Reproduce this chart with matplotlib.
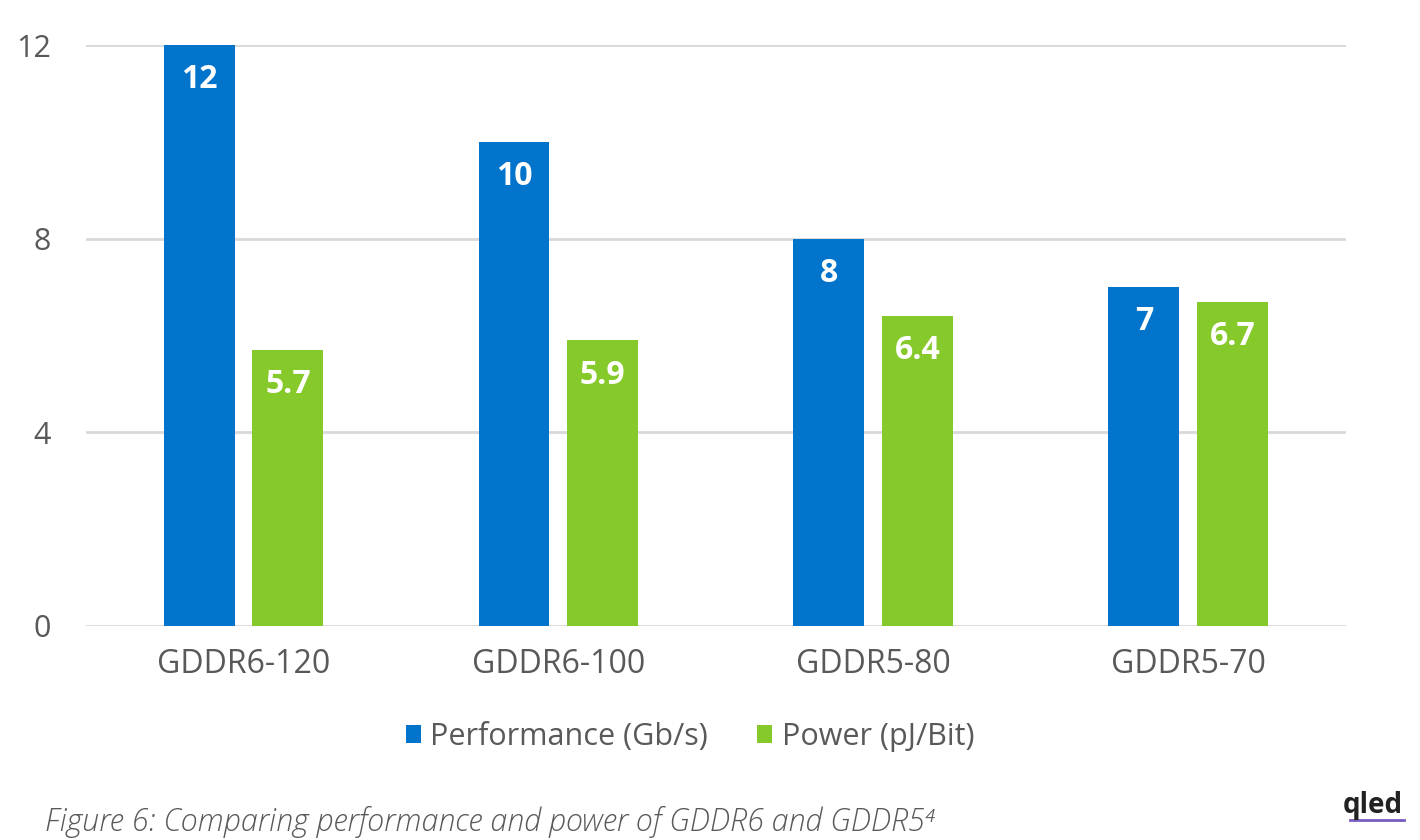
import matplotlib.pyplot as plt
import numpy as np

plt.rcParams['font.family'] = ['Open Sans', 'DejaVu Sans']

categories = ["GDDR6-120", "GDDR6-100", "GDDR5-80", "GDDR5-70"]
performance = [12, 10, 8, 7]
power = [5.7, 5.9, 6.4, 6.7]
yticks = [0, 4, 8, 12]

blue = "#0274CB"
green = "#85C92A"
gray_text = "#595959"
grid_gray = "#D9D9D9"

fig = plt.figure(figsize=(14.2, 8.4), dpi=100)
ax = fig.add_axes([0.0606, 0.2548, 0.887, 0.6916])

x = np.arange(len(categories))
width = 0.225
offset = 0.141

bars1 = ax.bar(x - offset, performance, width, color=blue, label="Performance (Gb/s)", zorder=3)
bars2 = ax.bar(x + offset, power, width, color=green, label="Power (pJ/Bit)", zorder=3)

for bars, vals in [(bars1, performance), (bars2, power)]:
    for b, v in zip(bars, vals):
        ax.annotate(
            f"{v:g}",
            (b.get_x() + b.get_width() / 2, v),
            xytext=(0, -25),
            textcoords="offset points",
            ha="center",
            va="center",
            color="white",
            fontsize=23,
            fontweight="bold",
            zorder=4
        )

ax.set_xlim(-0.5, len(categories) - 0.5)
ax.set_ylim(0, 12)
ax.set_yticks(yticks)
ax.set_xticks(x)
ax.set_xticklabels(categories)

ax.grid(axis="y", color=grid_gray, linewidth=2, zorder=0)
ax.set_axisbelow(True)
for s in ax.spines.values():
    s.set_visible(False)

ax.tick_params(axis="y", length=0, pad=25, labelsize=22, labelcolor=gray_text)
ax.tick_params(axis="x", length=0, pad=16, labelsize=23, labelcolor=gray_text)

fig.legend(
    loc="center",
    bbox_to_anchor=(690 / 1420, 1 - 737 / 840),
    ncol=2,
    frameon=False,
    fontsize=22,
    labelcolor=gray_text,
    handlelength=0.5,
    handleheight=0.5,
    handletextpad=0.3,
    columnspacing=1.6
)

fig.text(
    45 / 1420, 1 - 822 / 840,
    "Figure 6: Comparing performance and power of GDDR6 and GDDR5\u2074",
    fontsize=22,
    style="italic",
    fontweight="light",
    color=gray_text,
    va="center",
    ha="left"
)

fig.text(
    1373 / 1420, 1 - 806 / 840,
    "qled",
    fontsize=20,
    fontweight="bold",
    color="#222222",
    va="center",
    ha="center"
)
fig.add_artist(plt.Line2D([1350 / 1420, 1404 / 1420], [1 - 820 / 840, 1 - 820 / 840],
                          color="#7a5cc0", linewidth=2))

fig.savefig("out.png", dpi=100)
